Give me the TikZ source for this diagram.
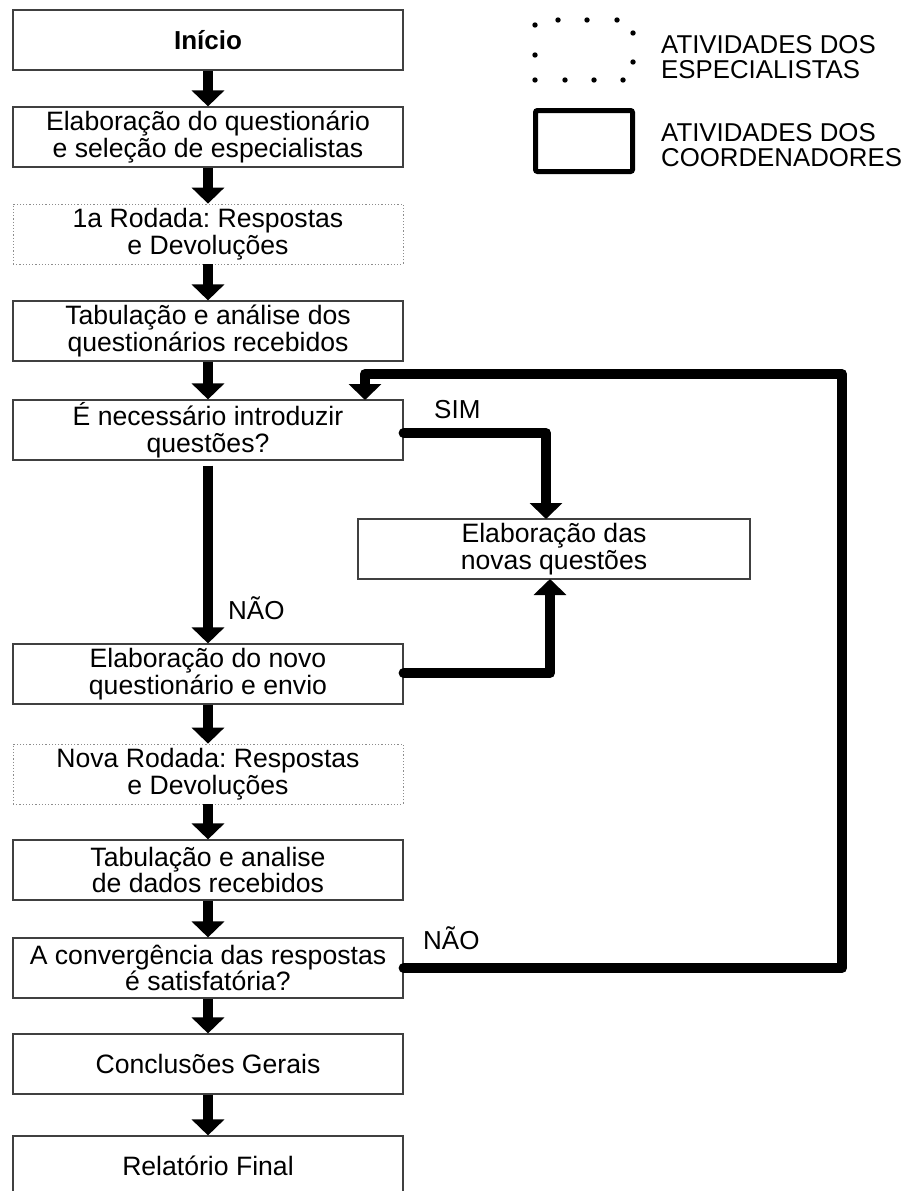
\documentclass[tikz,border=0pt]{standalone}
\usepackage{fontspec}
\setmainfont{Liberation Sans}
\usetikzlibrary{arrows.meta}
\begin{document}
\frenchspacing
\begin{tikzpicture}[x=1pt,y=-1pt,
  box/.style={draw=black!75, line width=1.2pt, minimum width=390pt, minimum height=60pt,
    inner sep=0pt, align=center, font=\fontsize{26.6}{26.5}\selectfont},
  spec/.style={box, draw=black!45, dotted, line width=0.8pt},
  flow/.style={line width=10pt, -{Triangle[width=32pt,length=16pt]}},
  conn/.style={line width=10pt, line cap=round, line join=round, -{Triangle[width=32pt,length=16pt]}},
  lbl/.style={font=\fontsize{26}{26}\selectfont, inner sep=0pt},
  legtxt/.style={font=\fontsize{25.8}{25.5}\selectfont, inner sep=0pt, align=left, anchor=west},
  dot/.style={fill=black}
]
\useasboundingbox (0,0) rectangle (912,1191);
\clip (0,0) rectangle (912,1191);

% main column
\node[box, font=\bfseries\fontsize{26}{26}\selectfont] (b1) at (208,40) {Início};
\node[box] (b2) at (208,137) {Elaboração do questionário\\e seleção de especialistas};
\node[spec] (b3) at (208,234) {1a Rodada: Respostas\\e Devoluções};
\node[box] (b4) at (208,331) {Tabulação e análise dos\\questionários recebidos};
\node[box] (b5) at (208,430) {É necessário introduzir\\questões?};
\node[box, minimum width=392pt] (b6) at (554,549) {Elaboração das\\novas questões};
\node[box] (b7) at (208,674) {Elaboração do novo\\questionário e envio};
\node[spec] (b8) at (208,774) {Nova Rodada: Respostas\\e Devoluções};
\node[box] (b9) at (208,870) {Tabulação e analise\\de dados recebidos};
\node[box] (b10) at (208,968) {A convergência das respostas\\é satisfatória?};
\node[box] (b11) at (208,1064) {Conclusões Gerais};
\node[box] (b12) at (208,1166) {Relatório Final};

% straight arrows
\draw[flow] (b1) -- (b2);
\draw[flow] (b2) -- (b3);
\draw[flow] (b3) -- (b4);
\draw[flow] (b4) -- (b5);
\draw[flow, shorten <=5pt] (b5) -- (b7);
\draw[flow] (b7) -- (b8);
\draw[flow] (b8) -- (b9);
\draw[flow] (b9) -- (b10);
\draw[flow] (b10) -- (b11);
\draw[flow] (b11) -- (b12);

% branch connectors
\coordinate (s6) at (546,519);
\coordinate (u6) at (550,579);
\coordinate (loopR) at (842,374);
\coordinate (t5) at (365,400);
\draw[conn] ([yshift=-3pt]b5.east) -| (s6);
\draw[conn] ([yshift=1pt]b7.east) -| (u6);
\draw[conn] (b10.east) -| (loopR) -| (t5);

% labels
\node[lbl, anchor=base west] (sim) at (434,418) {SIM};
\node[lbl, anchor=base west] (nao1) at (228,619) {NÃO};
\node[lbl, anchor=base west] (nao2) at (423,949) {NÃO};

% legend
\foreach \p in {(535,25),(558,20),(587,20),(617,20),(633,33),(633,62),(535,55),(535,80),(565,80),(594,80),(623,80)}
  \fill[dot] \p circle (2.7);
\node[draw, line width=5pt, rounded corners=2pt, minimum width=97pt, minimum height=61pt, inner sep=0pt] (legc) at (584,141) {};
\node[legtxt] (leg1) at (661,57) {ATIVIDADES DOS\\ESPECIALISTAS};
\node[legtxt] (leg2) at (661,145) {ATIVIDADES DOS\\COORDENADORES};
\end{tikzpicture}
\end{document}
